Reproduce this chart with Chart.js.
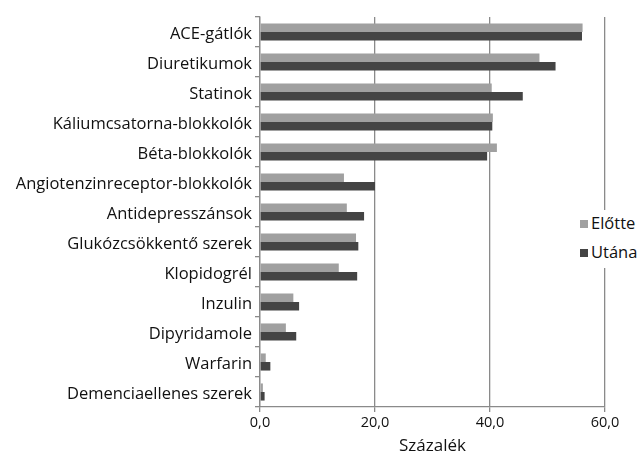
<!DOCTYPE html>
<html><head><meta charset="utf-8">
<script src="https://cdn.jsdelivr.net/npm/chart.js@4"></script>
<style>
html,body{margin:0;padding:0;background:#fff;}
#wrap{position:relative;width:643px;height:456px;}
#legend{position:absolute;left:576px;top:210px;width:67px;height:58px;background:#fff;font-family:"Open Sans",sans-serif;font-size:16.5px;color:#111;}
#legend div{position:absolute;left:4px;white-space:nowrap;line-height:18px;}
#legend span{display:inline-block;width:8px;height:8px;margin-right:3px;vertical-align:1px;}
</style></head><body>
<div id="wrap"><canvas id="c" width="643" height="456"></canvas>
<div id="legend"></div></div>
<script>
const categories = ["ACE-gátlók","Diuretikumok","Statinok","Káliumcsatorna-blokkolók","Béta-blokkolók","Angiotenzinreceptor-blokkolók","Antidepresszánsok","Glukózcsökkentő szerek","Klopidogrél","Inzulin","Dipyridamole","Warfarin","Demenciaellenes szerek"];
const seriesNames = ["Előtte","Utána"];
const elotte = [56.1,48.6,40.3,40.5,41.2,14.6,15.1,16.7,13.7,5.8,4.5,1.0,0.5];
const utana = [56.0,51.4,45.7,40.4,39.5,20.0,18.1,17.1,16.9,6.8,6.3,1.8,0.8];
const xTicks = [0,20,40,60];
const axisTitle = "Százalék";
const colors = ["#a0a0a0","#444444"];

const leg = document.getElementById('legend');
seriesNames.forEach((n,i)=>{
  const d=document.createElement('div');
  d.style.top=(i===0?4:33)+'px';
  d.innerHTML='<span style="background:'+colors[i]+'"></span>'+n;
  leg.appendChild(d);
});

const font = "'Open Sans', sans-serif";
new Chart(document.getElementById('c'), {
  type:'bar',
  data:{labels:categories,datasets:[
    {label:seriesNames[0],data:elotte,backgroundColor:colors[0],categoryPercentage:0.57,barPercentage:1.0},
    {label:seriesNames[1],data:utana,backgroundColor:colors[1],categoryPercentage:0.57,barPercentage:1.0}
  ]},
  options:{
    indexAxis:'y',responsive:false,animation:false,
    layout:{padding:{top:17,right:38,left:0,bottom:0}},
    plugins:{legend:{display:false},tooltip:{enabled:false}},
    scales:{
      x:{min:0,max:60,
        afterBuildTicks:s=>{s.ticks=xTicks.map(v=>({value:v}));},
        afterFit:s=>{s.height=49;},
        grid:{color:'#8a8a8a',lineWidth:1.3,tickLength:5,drawTicks:true},
        border:{color:'#8a8a8a',width:1.3},
        ticks:{color:'#111',font:{family:font,size:14.5},padding:2,callback:v=>v.toFixed(1).replace('.',',')},
        title:{display:true,text:axisTitle,color:'#111',font:{family:font,size:17},padding:{top:1,bottom:0}}
      },
      y:{
        afterFit:s=>{s.width=260;},
        grid:{drawOnChartArea:false,color:'#8a8a8a',lineWidth:1.3,tickLength:5,offset:true},
        border:{color:'#8a8a8a',width:1.3},
        ticks:{color:'#111',font:{family:font,size:16.5},padding:3,labelOffset:2}
      }
    }
  }
});
</script></body></html>
